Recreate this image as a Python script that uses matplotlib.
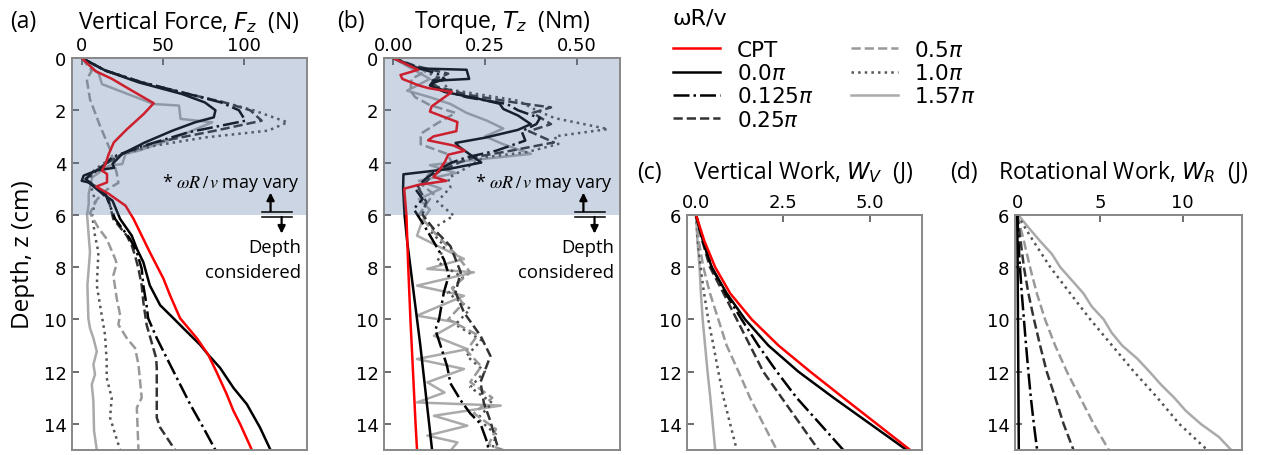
import numpy as np
import matplotlib
matplotlib.use("Agg")
import matplotlib.pyplot as plt
import matplotlib.transforms as mtransforms

W, H = 1266, 456

# ---------------- panel (a): vertical force (N) vs depth (cm)
cpt_a_z = [0, 0.5, 0.8, 1.25, 1.73, 2.14, 2.72, 3.23, 3.67, 4.06, 4.31, 4.44, 4.76, 4.92, 5.2, 5.65,
           6.16, 7.43, 8.44, 9.08, 9.96, 10.72, 11.35, 11.99, 12.87, 13.5, 14.0, 15.0]
cpt_a_f = [0, 8.4, 18.7, 31, 44.4, 38.3, 28, 19.8, 16.7, 14.6, 12.5, 15.6, 15.6, 9, 16.7, 27,
           32, 42, 50.4, 54.5, 60.7, 71, 78, 83, 89.5, 93.6, 97.7, 105]

p0_a_z = [0, 0.48, 0.93, 1.38, 1.7, 2.0, 2.27, 2.46, 2.78, 3.23, 3.67, 4.05, 4.2, 4.3, 4.5, 4.7, 4.76,
          5.08, 5.46, 6.16, 6.8, 7.3, 7.81, 8.7, 9.46, 9.96, 10.47, 10.97, 11.35, 11.86, 12.62, 13.25,
          14.14, 15.0]
p0_a_f = [0, 14.6, 35, 62, 76, 82.5, 81.5, 70, 56, 39, 25, 19, 20, 9.5, 1.2, 0, 4.3,
          10.5, 19, 23.7, 30.9, 34, 38, 42, 48.4, 56.6, 64.8, 73, 78, 85.4, 93.6, 101.9,
          110, 116.5]

p125_a_z = [0, 0.48, 0.93, 1.38, 1.7, 2.0, 2.4, 2.84, 3.42, 3.8, 4.06, 4.44, 4.63, 4.82, 5.2, 6.16,
            6.92, 7.43, 8.06, 8.7, 9.46, 9.96, 10.72, 11.73, 12.49, 13.25, 14.14, 15.0]
p125_a_f = [0, 14.6, 37, 66, 86, 97, 101, 66, 35, 18.7, 14.6, 6.4, 2.3, 6.4, 14.6, 20.6,
            29.8, 34, 37, 38, 40, 41, 46.3, 54.5, 60.7, 66.9, 75, 82.5]

p25_a_z = [0, 0.48, 0.93, 1.38, 1.7, 2.0, 2.4, 2.78, 3.23, 3.67, 4.06, 4.5, 4.7, 4.9, 5.46, 6.16,
           6.8, 7.18, 7.56, 8.06, 8.7, 9.33, 10.2, 11.48, 11.86, 13.76, 14.14, 15.0]
p25_a_f = [0, 14.6, 37, 66, 88, 104, 111, 82.5, 45.5, 25, 14.6, 4.3, 2.3, 8.4, 16.7, 19.5,
           27.8, 30.9, 32.9, 35, 37, 38, 40, 45.9, 46.3, 46.3, 48.4, 57.6]

p50_a_z = [0, 0.49, 0.81, 1.58, 2.6, 3.5, 4.4, 4.78, 5.04, 5.42, 5.94, 6.5, 6.92, 7.68, 7.87, 8.32,
           9.2, 9.84, 10.2, 10.72, 11.1, 11.73, 13.0, 13.38, 15.0]
p50_a_f = [0, 6.2, 3.1, 5.1, 11.3, 17.5, 21.6, 22.6, 15.4, 9.3, 5.1, 10.3, 15.4, 20.6, 21.6, 19.5,
           21.6, 23.7, 22.6, 27.8, 32.9, 35, 37, 34, 35]

p100_a_z = [0, 0.48, 0.93, 1.38, 1.7, 2.0, 2.2, 2.46, 2.78, 3.04, 3.35, 3.67, 4.06, 4.37, 4.7, 5.08,
            5.46, 6.0, 6.8, 7.43, 8.7, 9.46, 10.6, 11.6, 12.24, 13.0, 13.76, 14.39, 15.0]
p100_a_f = [0, 14.6, 37, 66, 88, 106, 115, 127, 115, 76, 45.5, 25, 12.5, 6.4, 5.3, 6.4,
            8.4, 6.4, 8.2, 10.3, 9.3, 11.3, 14.4, 15.4, 15.4, 18.5, 17.5, 20.6, 23.7]

p157_a_z = [0, 0.6, 1.0, 1.76, 1.82, 2.33, 2.46, 3.1, 3.55, 3.67, 4.06, 4.12, 4.57, 5.2, 5.6, 6.0,
            7.43, 8.7, 9.96, 10.34, 10.72, 11.23, 11.73, 12.11, 12.49, 13.13, 14.27, 15.0]
p157_a_f = [0, 10.5, 12.5, 44.4, 60, 61, 80.5, 55.8, 35, 27, 25, 16.7, 6.4, 4.3, 4.3, 3.3,
            5.1, 3.5, 4.1, 5.1, 7.2, 9.3, 7.2, 8.2, 6.2, 7.2, 7.6, 9.3]

# ---------------- panel (b): torque (Nm) vs depth (cm)
cpt_b_z = [0, 0.3, 0.45, 0.65, 0.8, 1.05, 1.15, 1.3, 1.55, 1.85, 2.05, 2.45, 2.8, 3.0, 3.15, 3.35,
           3.55, 3.7, 4.0, 4.3, 4.55, 4.7, 4.85, 5.0, 6.0, 8.0, 10.0, 12.0, 14.0, 15.0]
cpt_b_t = [0, 0.045, 0.068, 0.02, 0.025, 0.07, 0.095, 0.16, 0.135, 0.105, 0.1, 0.175, 0.172, 0.11,
           0.095, 0.165, 0.195, 0.15, 0.14, 0.125, 0.11, 0.145, 0.07, 0.03, 0.036, 0.041, 0.047,
           0.054, 0.061, 0.065]

p0_b_z = [0, 0.4, 0.45, 0.8, 0.87, 1.05, 1.3, 1.55, 1.75, 1.95, 2.2, 2.53, 2.75, 3.05, 3.25, 3.4,
          3.7, 4.0, 4.25, 4.45, 5.0, 6.0, 7.0, 8.0, 9.0, 10.0, 11.0, 12.0, 13.0, 14.0, 15.0]
p0_b_t = [0, 0.07, 0.2, 0.207, 0.11, 0.1, 0.14, 0.23, 0.29, 0.3, 0.34, 0.375, 0.34, 0.25, 0.17,
          0.18, 0.21, 0.24, 0.15, 0.028, 0.027, 0.031, 0.038, 0.047, 0.056, 0.065, 0.074, 0.082,
          0.09, 0.098, 0.106]

p125_b_z = [0, 0.3, 0.6, 0.8, 1.0, 1.2, 1.5, 1.76, 2.0, 2.3, 2.53, 2.8, 3.16, 3.55, 3.8, 4.0, 4.3,
            4.6, 5.0, 5.4, 5.78, 6.4, 7.05, 7.7, 8.3, 8.97, 10.0, 10.4, 11.0, 11.8, 12.45, 13.1,
            13.6, 14.0, 14.7, 15.0]
p125_b_t = [0, 0.05, 0.12, 0.14, 0.1, 0.13, 0.2, 0.31, 0.34, 0.4, 0.39, 0.35, 0.36, 0.28, 0.2,
            0.16, 0.12, 0.09, 0.06, 0.08, 0.056, 0.084, 0.111, 0.138, 0.152, 0.138, 0.125, 0.115,
            0.129, 0.147, 0.156, 0.184, 0.21, 0.238, 0.256, 0.26]

p25_b_z = [0, 0.3, 0.6, 0.9, 1.1, 1.4, 1.7, 1.89, 2.1, 2.53, 2.8, 3.23, 3.55, 3.8, 4.0, 4.3, 4.6,
           5.0, 5.5, 6.0, 6.55, 7.2, 8.2, 8.97, 9.74, 10.63, 11.4, 12.4, 13.2, 13.9, 14.85, 15.0]
p25_b_t = [0, 0.06, 0.15, 0.1, 0.12, 0.2, 0.33, 0.43, 0.38, 0.43, 0.37, 0.438, 0.32, 0.22, 0.18,
           0.13, 0.1, 0.07, 0.09, 0.08, 0.111, 0.156, 0.184, 0.17, 0.193, 0.238, 0.265, 0.238,
           0.247, 0.265, 0.284, 0.29]

p50_b_z = [0, 0.3, 0.5, 0.8, 1.25, 1.5, 1.8, 2.1, 2.5, 2.9, 3.3, 3.67, 4.0, 4.4, 4.82, 5.2, 5.6,
           6.0, 6.8, 7.5, 8.2, 8.8, 9.4, 10.0, 10.6, 11.2, 11.8, 12.4, 13.0, 13.6, 14.2, 14.8, 15.0]
p50_b_t = [0, 0.04, 0.09, 0.05, 0.047, 0.06, 0.1, 0.17, 0.12, 0.075, 0.075, 0.147, 0.16, 0.1,
           0.075, 0.11, 0.09, 0.07, 0.12, 0.17, 0.21, 0.16, 0.19, 0.15, 0.23, 0.2, 0.24, 0.21,
           0.27, 0.22, 0.28, 0.26, 0.3]

p100_b_z = [0, 0.4, 0.8, 1.2, 1.63, 2.0, 2.3, 2.72, 3.0, 3.29, 3.6, 3.8, 4.2, 4.6, 4.95, 5.5, 6.03,
            6.6, 7.2, 7.8, 8.4, 9.0, 9.6, 10.2, 10.8, 11.4, 12.0, 12.6, 13.2, 13.8, 14.4, 15.0]
p100_b_t = [0, 0.07, 0.13, 0.15, 0.34, 0.39, 0.44, 0.585, 0.44, 0.45, 0.365, 0.247, 0.2, 0.15,
            0.156, 0.12, 0.165, 0.1, 0.14, 0.12, 0.19, 0.15, 0.21, 0.17, 0.24, 0.2, 0.25, 0.21,
            0.27, 0.23, 0.28, 0.27]

p157_b_z = [0, 0.4, 0.8, 1.25, 1.5, 1.76, 2.1, 2.4, 2.7, 3.0, 3.3, 3.67, 3.9, 4.1, 4.4, 4.7, 5.0,
            5.4, 5.8, 6.2, 6.8, 7.69, 8.07, 8.2, 8.71, 9.1, 9.86, 10.12, 10.63, 11.14, 11.52, 11.9,
            12.41, 12.8, 13.18, 13.3, 13.69, 14.07, 14.45, 14.71, 14.96]
p157_b_t = [0, 0.05, 0.1, 0.038, 0.1, 0.156, 0.2, 0.256, 0.3, 0.25, 0.3, 0.375, 0.22, 0.1, 0.17,
            0.07, 0.13, 0.07, 0.1, 0.08, 0.065, 0.193, 0.093, 0.22, 0.065, 0.193, 0.065, 0.175,
            0.111, 0.202, 0.065, 0.193, 0.093, 0.14, 0.065, 0.293, 0.111, 0.202, 0.093, 0.175, 0.16]

# ---------------- panels (c) and (d): work (J) vs depth, 6-15 cm
work_z = [6, 7, 8, 9, 10, 11, 12, 13, 14, 15]
cpt_c = [0, 0.24, 0.55, 0.98, 1.6, 2.37, 3.28, 4.23, 5.19, 6.15]
p0_c = [0, 0.2, 0.45, 0.88, 1.41, 2.08, 2.94, 3.95, 5.0, 6.05]
p125_c = [0, 0.2, 0.45, 0.85, 1.31, 1.79, 2.32, 2.89, 3.56, 4.23]
p25_c = [0, 0.18, 0.4, 0.79, 1.17, 1.55, 1.93, 2.46, 2.99, 3.52]
p50_c = [0, 0.08, 0.21, 0.4, 0.64, 0.88, 1.22, 1.55, 1.93, 2.32]
p100_c = [0, 0.05, 0.13, 0.23, 0.35, 0.5, 0.64, 0.79, 0.98, 1.17]
p157_c = [0, 0.04, 0.1, 0.14, 0.19, 0.26, 0.33, 0.41, 0.48, 0.55]

p0_d = [0, 0.01, 0.02, 0.03, 0.04, 0.05, 0.06, 0.07, 0.08, 0.09]
p125_d = [0, 0.07, 0.16, 0.27, 0.4, 0.53, 0.67, 0.82, 1.0, 1.2]
p25_d = [0, 0.2, 0.4, 0.67, 1.01, 1.38, 1.78, 2.3, 2.8, 3.4]
p50_d = [0, 0.4, 0.77, 1.18, 1.68, 2.29, 3.0, 3.81, 4.62, 5.54]
p100_d = [0, 0.97, 2.0, 3.2, 4.42, 5.74, 7.06, 8.48, 9.8, 11.5]
p157_d_z = [6, 6.5, 7, 7.5, 8, 8.5, 9, 9.5, 10, 10.5, 11, 11.5, 12, 12.5, 13, 13.5, 14, 14.5, 15]
p157_d = [0.06, 0.7, 1.38, 2.1, 2.6, 3.3, 4.0, 4.5, 5.23, 5.7, 6.35, 7.26, 8.0, 8.7, 9.5, 10.2,
          11.1, 12.2, 12.95]

labels = ['CPT', r'0.0$\pi$', r'0.125$\pi$', r'0.25$\pi$', r'0.5$\pi$', r'1.0$\pi$', r'1.57$\pi$']
styles = [dict(color='#ff0000', ls='-'),
          dict(color='black', ls='-'),
          dict(color='black', ls='-.'),
          dict(color='#333333', ls='--'),
          dict(color='#999999', ls='--'),
          dict(color='#555555', ls=':'),
          dict(color='#aaaaaa', ls='-')]
LW = 1.8

plt.rcParams['font.family'] = ['DejaVu Sans']
plt.rcParams['mathtext.fontset'] = 'dejavusans'

fig = plt.figure(figsize=(W / 100, H / 100), dpi=100)


def px_axes(x0, y0, x1, y1):
    return fig.add_axes([x0 / W, 1 - y1 / H, (x1 - x0) / W, (y1 - y0) / H])


ax_a = px_axes(72, 59, 307, 451)
ax_b = px_axes(384, 59, 620, 451)
ax_c = px_axes(687, 216, 922, 451)
ax_d = px_axes(1015, 216, 1242, 451)

series_a = [(cpt_a_f, cpt_a_z), (p0_a_f, p0_a_z), (p125_a_f, p125_a_z), (p25_a_f, p25_a_z),
            (p50_a_f, p50_a_z), (p100_a_f, p100_a_z), (p157_a_f, p157_a_z)]
series_b = [(cpt_b_t, cpt_b_z), (p0_b_t, p0_b_z), (p125_b_t, p125_b_z), (p25_b_t, p25_b_z),
            (p50_b_t, p50_b_z), (p100_b_t, p100_b_z), (p157_b_t, p157_b_z)]
series_c = [(cpt_c, work_z), (p0_c, work_z), (p125_c, work_z), (p25_c, work_z),
            (p50_c, work_z), (p100_c, work_z), (p157_c, work_z)]
series_d = [None, (p0_d, work_z), (p125_d, work_z), (p25_d, work_z),
            (p50_d, work_z), (p100_d, work_z), (p157_d, p157_d_z)]

handles = []
for ax, series in [(ax_a, series_a), (ax_b, series_b), (ax_c, series_c), (ax_d, series_d)]:
    # draw from the back (light gray) to the front (red)
    for i in range(len(series) - 1, -1, -1):
        if series[i] is None:
            continue
        x, z = series[i]
        ln, = ax.plot(x, z, lw=LW, label=labels[i], **styles[i])
        if ax is ax_a:
            handles.insert(0, ln)

for ax in [ax_a, ax_b, ax_c, ax_d]:
    ax.xaxis.tick_top()
    ax.tick_params(direction='in', labelsize=13, length=5, width=1.2, color='#555555', pad=4)
    ax.tick_params(axis='x', pad=3)
    for s in ax.spines.values():
        s.set_color('#888888')
        s.set_linewidth(1.4)
        s.set_zorder(4)

ax_a.set_xlim(-6.0, 139)
ax_a.set_xticks([0, 50, 100])
ax_b.set_xlim(-0.025, 0.618)
ax_b.set_xticks([0, 0.25, 0.5])
ax_b.set_xticklabels(['0.00', '0.25', '0.50'])
ax_c.set_xlim(-0.26, 6.49)
ax_c.set_xticks([0, 2.5, 5.0])
ax_c.set_xticklabels(['0.0', '2.5', '5.0'])
ax_d.set_xlim(-0.14, 13.6)
ax_d.set_xticks([0, 5, 10])

for ax in [ax_a, ax_b]:
    ax.set_ylim(15, 0)
    ax.set_yticks(range(0, 16, 2))
    ax.axhspan(0, 6, color='#50709f', alpha=0.29, lw=0, zorder=3)
    tr = mtransforms.blended_transform_factory(ax.transAxes, ax.transData)
    ax.text(0.968, 4.75, r'* $\omega R\,/\,v$ may vary', transform=tr, ha='right', va='center',
            fontsize=13, family='Open Sans', math_fontfamily='stix', zorder=6)
    ax.annotate('', xy=(0.845, 5.15), xytext=(0.845, 5.86), xycoords=tr, textcoords=tr,
                arrowprops=dict(arrowstyle='-|>', color='black', lw=1.6, mutation_scale=11,
                                shrinkA=0, shrinkB=0), zorder=6)
    ax.annotate('', xy=(0.892, 6.72), xytext=(0.892, 6.08), xycoords=tr, textcoords=tr,
                arrowprops=dict(arrowstyle='-|>', color='black', lw=1.6, mutation_scale=11,
                                shrinkA=0, shrinkB=0), zorder=6)
    for yy in (5.89, 6.07):
        ax.plot([0.81, 0.935], [yy, yy], transform=tr, color='black', lw=1.1, zorder=6)
    ax.text(0.975, 7.23, 'Depth', transform=tr, ha='right', va='center', fontsize=13.3,
            family='Open Sans', zorder=6)
    ax.text(0.975, 8.19, 'considered', transform=tr, ha='right', va='center', fontsize=13.3,
            family='Open Sans', zorder=6)

for ax in [ax_c, ax_d]:
    ax.set_ylim(15, 6)
    ax.set_yticks(range(6, 16, 2))

ax_a.set_ylabel('Depth, z (cm)', fontsize=17.5, family='Open Sans', labelpad=6)


def ftext(x, y, s, **kw):
    fig.text(x / W, 1 - y / H, s, va='center', **kw)


tkw = dict(fontsize=16.5, family='Open Sans')
ftext(10, 22, '(a)', ha='left', **tkw)
ftext(189, 22, r'Vertical Force, $F_z$  (N)', ha='center', **tkw)
ftext(337, 22, '(b)', ha='left', **tkw)
ftext(502, 22, r'Torque, $T_z$  (Nm)', ha='center', **tkw)
ftext(637, 173, '(c)', ha='left', **tkw)
ftext(803, 173, r'Vertical Work, $W_V$  (J)', ha='center', **tkw)
ftext(950, 173, '(d)', ha='left', **tkw)
ftext(1123, 173, r'Rotational Work, $W_R$  (J)', ha='center', **tkw)

ftext(672, 19, r'ωR/v', ha='left', fontsize=16)

fig.legend(handles=handles, labels=labels, loc='upper left',
           bbox_to_anchor=(673 / W, 1 - 41 / H), ncol=2, frameon=False, fontsize=15.5,
           borderaxespad=0, borderpad=0, handlelength=2.2, handletextpad=0.75,
           columnspacing=1.75, labelspacing=0.15)

fig.savefig('out.png', dpi=100)
